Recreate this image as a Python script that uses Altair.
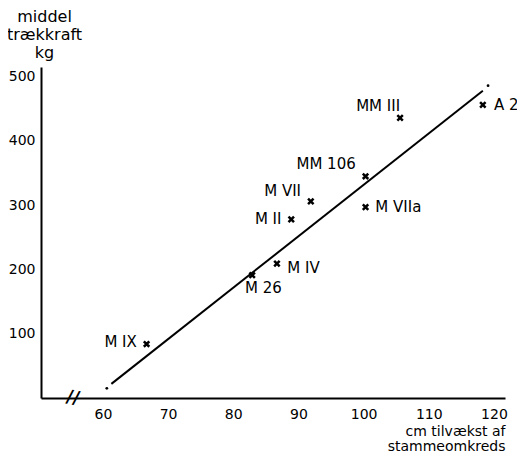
import altair as alt
import pandas as pd

# data
names = ["M IX", "M 26", "M IV", "M II", "M VII", "MM 106", "M VIIa", "MM III", "A 2"]
growth = [66.7, 82.9, 86.7, 88.9, 91.9, 100.3, 100.3, 105.6, 118.3]
pull = [84, 191, 209, 278, 306, 345, 297, 436, 456]
# label anchor positions (data units) and alignment
label_x = [65.2, 81.8, 88.3, 87.4, 90.4, 98.8, 101.8, 105.6, 120.0]
label_y = [87, 171, 202, 278, 322, 364, 297, 455, 456]
label_align = ["right", "left", "left", "right", "right", "right", "left", "right", "left"]

fit_x = [61.3, 118.3]
fit_y = [22, 478]
end_x = [60.6, 119.1]
end_y = [15, 486]

x_ticks = [60, 70, 80, 90, 100, 110, 120]
y_ticks = [100, 200, 300, 400, 500]

FONT = "DejaVu Sans"
pts = pd.DataFrame({"x": growth, "y": pull, "name": names})
labels = pd.DataFrame({"x": label_x, "y": label_y, "name": names, "align": label_align})
fit = pd.DataFrame({"x": fit_x, "y": fit_y})
ends = pd.DataFrame({"x": end_x, "y": end_y})
brk = pd.DataFrame({"x": [55.4], "y": [0], "t": ["//"]})

xs = alt.Scale(domain=[50.5, 121.7], nice=False, zero=False)
ys = alt.Scale(domain=[0, 515], nice=False)

xaxis = alt.Axis(values=x_ticks, ticks=False, grid=False, domainColor="black", domainWidth=2,
                 labelFontSize=14, labelFont=FONT, labelColor="black", labelPadding=9,
                 title=["cm tilvækst af", "stammeomkreds"], titleFont=FONT, titleFontSize=14,
                 titleFontWeight="normal", titleAlign="right", titleAnchor="end", titleX=464,
                 titleY=26, titleBaseline="top", titleLineHeight=15, titleColor="black")
yaxis = alt.Axis(values=y_ticks, ticks=False, grid=False, domainColor="black", domainWidth=2,
                 labelFontSize=14, labelFont=FONT, labelColor="black", labelPadding=6,
                 title=["middel", "trækkraft", "kg"], titleFont=FONT, titleFontSize=16,
                 titleFontWeight="normal", titleAngle=0, titleAlign="center", titleX=3,
                 titleY=-59, titleBaseline="top", titleLineHeight=18, titleColor="black")

X = alt.X("x:Q", scale=xs, axis=xaxis)
Y = alt.Y("y:Q", scale=ys, axis=yaxis)

line = alt.Chart(fit).mark_line(color="black", strokeWidth=2).encode(x=X, y=Y)
dots = alt.Chart(ends).mark_circle(color="black", size=8, opacity=1).encode(x=X, y=Y)
marks = alt.Chart(pts).mark_point(shape="M-1,-1L1,1M-1,1L1,-1", color="black", strokeWidth=2.5,
                                  size=30, filled=False, opacity=1).encode(x=X, y=Y)

def lab(al):
    return alt.Chart(labels).transform_filter(alt.datum.align == al).mark_text(
        align=al, baseline="middle", font=FONT, fontSize=15, color="black").encode(
        x=X, y=Y, text="name:N")

brk_mark = alt.Chart(brk).mark_text(font="DejaVu Sans", fontSize=18, fontWeight="bold",
                                    color="black", baseline="middle", align="center", angle=10).encode(
    x=X, y=Y, text="t:N")

chart = alt.layer(line, dots, marks, lab("left"), lab("right"), brk_mark).properties(
    width=464, height=331, autosize="none",
    padding={"left": 33, "top": 59, "right": 12, "bottom": 58},
).configure(background="white").configure_view(stroke=None)

chart.save("out.html", embed_options={"renderer": "svg", "actions": False})
